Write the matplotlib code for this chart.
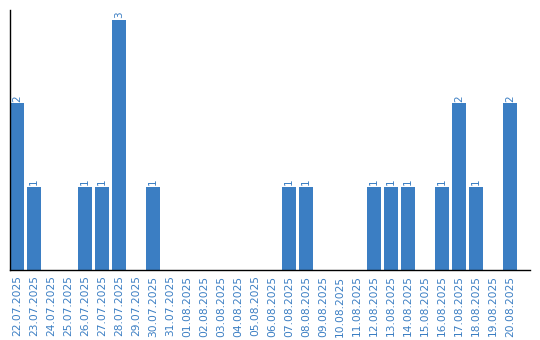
import matplotlib.pyplot as plt

# Dados
datas = ['22.07.2025', '23.07.2025', '24.07.2025', '25.07.2025', '26.07.2025',
         '27.07.2025', '28.07.2025', '29.07.2025', '30.07.2025', '31.07.2025',
         '01.08.2025', '02.08.2025', '03.08.2025', '04.08.2025', '05.08.2025',
         '06.08.2025', '07.08.2025', '08.08.2025', '09.08.2025', '10.08.2025',
         '11.08.2025', '12.08.2025', '13.08.2025', '14.08.2025', '15.08.2025',
         '16.08.2025', '17.08.2025', '18.08.2025', '19.08.2025', '20.08.2025']
valores = [2, 1, 0, 0, 1, 1, 3, 0, 1, 0,
           0, 0, 0, 0, 0, 0, 1, 1, 0, 0,
           0, 1, 1, 1, 0, 1, 2, 1, 0, 2]

cor = '#3b7ec3'
largura = 0.82

fig = plt.figure(figsize=(5.4, 3.4), dpi=100)
ax = fig.add_axes([10 / 540, 70 / 340, 520 / 540, 260 / 340])

x = list(range(len(datas)))
ax.bar(x, valores, width=largura, color=cor)

for xi, v in zip(x, valores):
    if v > 0:
        ax.text(xi, v + 0.02, str(v), rotation=90, ha='center', va='bottom',
                fontsize=7.5, color=cor)

ax.set_xlim(-largura / 2, 30.18)
ax.set_ylim(0, 3.12)
ax.set_xticks(x)
ax.set_xticklabels(datas, rotation=90, fontsize=7.7, color=cor)
ax.tick_params(axis='x', length=0, pad=4)
ax.set_yticks([])
ax.spines['top'].set_visible(False)
ax.spines['right'].set_visible(False)
ax.spines['left'].set_linewidth(1)
ax.spines['bottom'].set_linewidth(1)

plt.savefig('out.png', dpi=100)
